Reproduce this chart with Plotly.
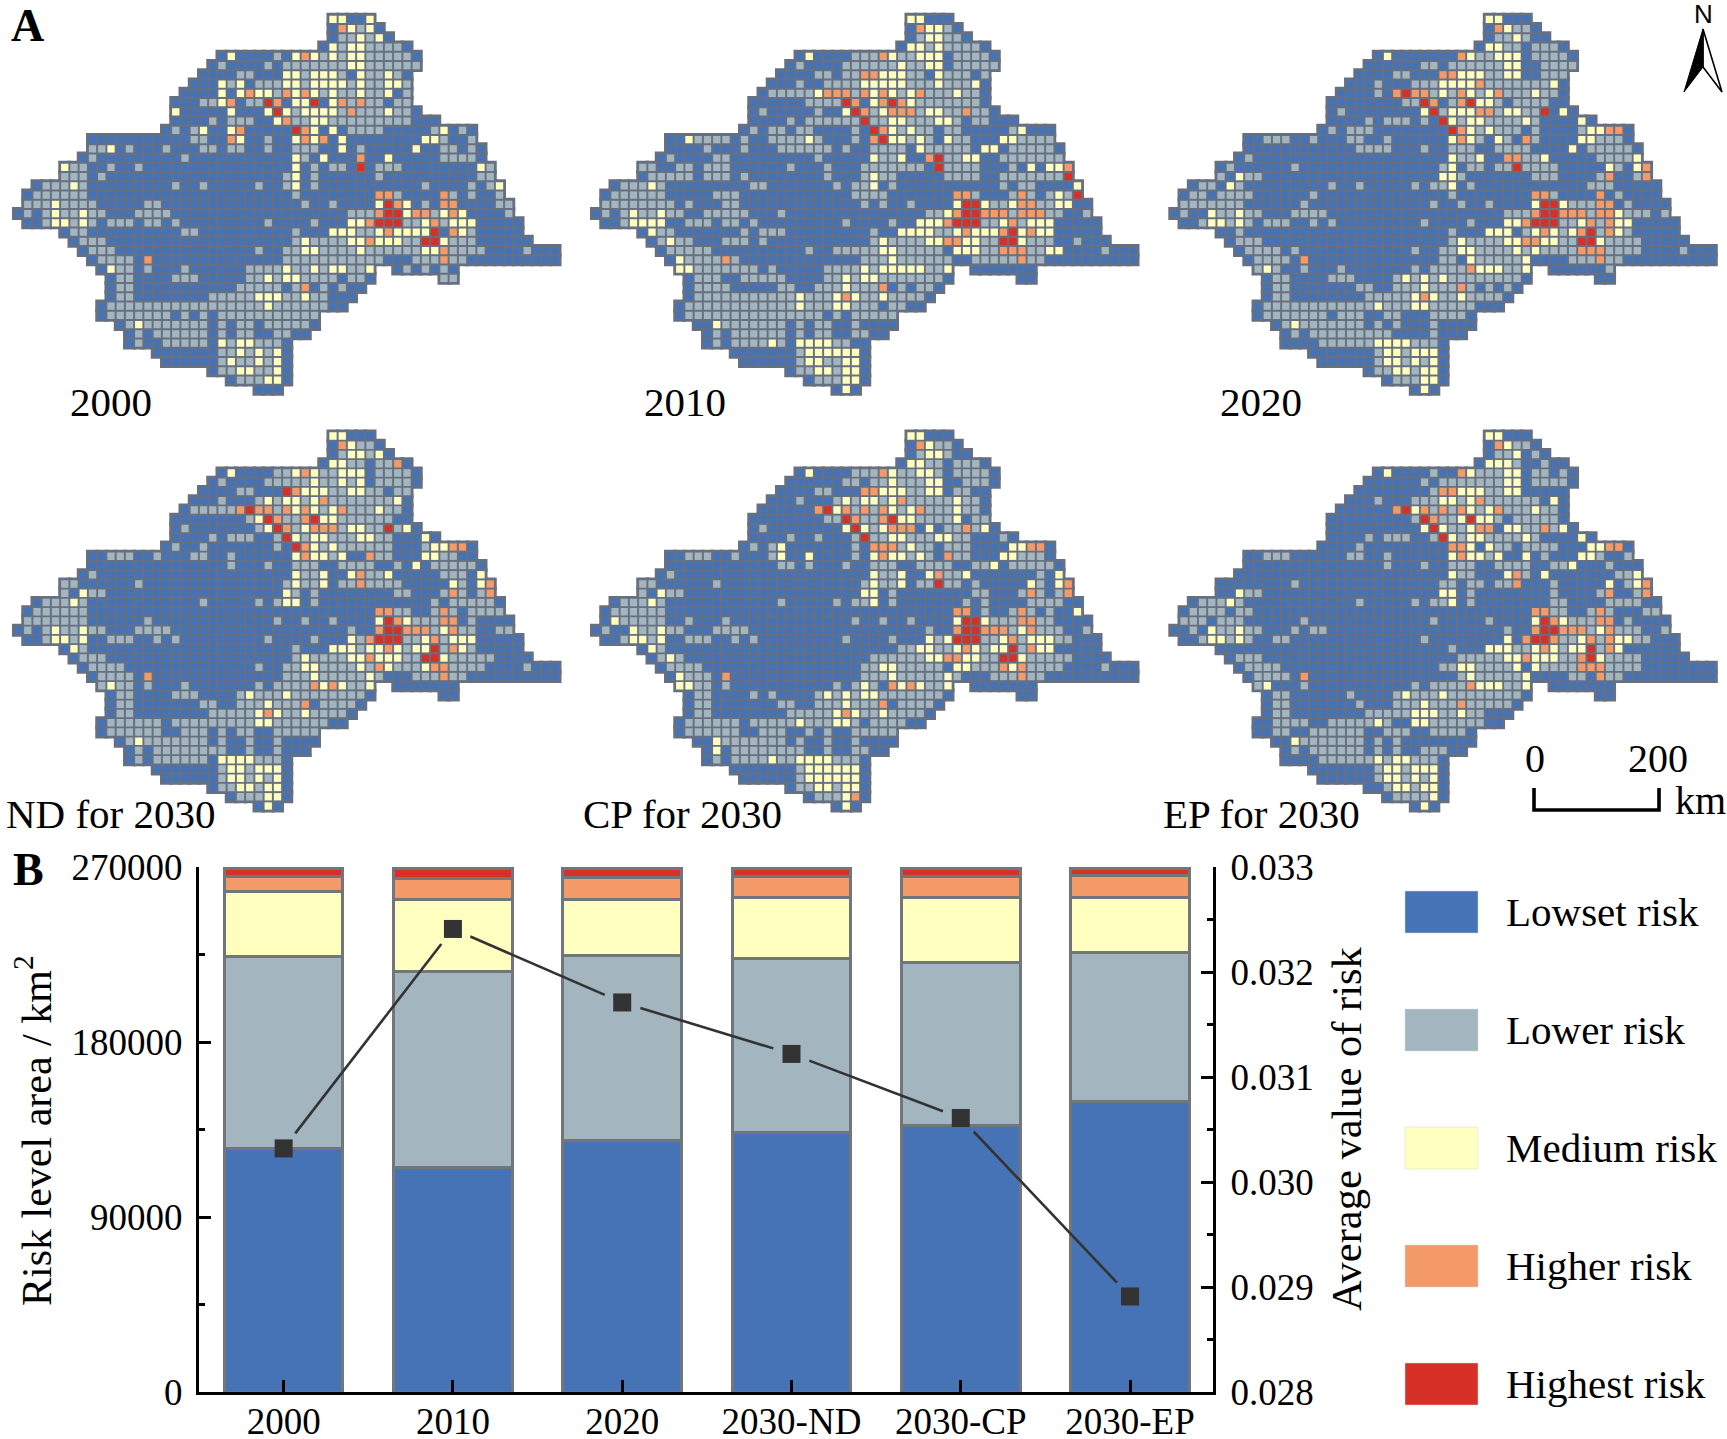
# Risk level maps (A) and stacked risk area chart with average risk line (B)
import plotly.graph_objects as go

W, H = 1727, 1439

# ---- panel B values ----
CATEGORIES = ["2000", "2010", "2020", "2030-ND", "2030-CP", "2030-EP"]
LOWEST = [125400, 115600, 129100, 133600, 137000, 149300]
LOWER = [98500, 100800, 95600, 89400, 83800, 76700]
MEDIUM = [33500, 36900, 28600, 31200, 33400, 28500]
HIGHER = [7700, 10800, 11200, 10700, 10700, 11000]
HIGHEST = [4300, 5300, 4900, 4500, 4500, 3900]
AVG_RISK = [0.03032, 0.03241, 0.03171, 0.03122, 0.03061, 0.02891]
RISK_NAMES = ["Lowset risk", "Lower risk", "Medium risk", "Higher risk", "Highest risk"]
RISK_COLORS = ["#4673B5", "#A3B5BF", "#FFFFBF", "#F49A69", "#D73027"]

# ---- panel A values: grid cells, row -> columns ----
# blue (lowest) is whatever is left inside the outline
ROW_SPANS = [
    [(34, 38)], [(34, 39)], [(34, 40)], [(33, 42)], [(22, 43)], [(21, 43)], [(20, 42)], [(19, 42)],
    [(18, 42)], [(17, 42)], [(17, 43)], [(17, 45)], [(16, 49)], [(8, 49)], [(8, 50)], [(7, 50)],
    [(5, 51)], [(5, 51)], [(2, 52)], [(1, 52)], [(1, 53)], [(0, 53)], [(1, 54)], [(5, 54)],
    [(6, 55)], [(7, 58)], [(8, 58)], [(9, 38), (41, 47)], [(10, 38), (46, 47)], [(10, 37)], [(10, 36)],
    [(9, 35)], [(9, 32)], [(11, 32)], [(12, 31)], [(12, 29)], [(15, 29)], [(16, 29)], [(21, 29)],
    [(23, 29)], [(26, 28)],
]

GRAY_2000 = {
    1: [37], 2: [35, 36, 38], 3: [35, 38, 39, 40, 41], 4: [28, 33, 35, 38, 39, 40, 41, 42],
    5: [22, 27, 29, 30, 31, 32, 33, 34, 35, 38, 39, 40, 41, 42, 43], 6: [24, 25, 31, 35, 38, 39, 41],
    7: [23, 26, 27, 28, 31, 36, 38, 39, 42], 8: [28, 33, 35, 36, 38, 39, 42],
    9: [20, 21, 25, 26, 36, 38, 39, 41, 42], 10: [30, 35, 37, 38, 39, 41, 42],
    11: [21, 23, 24, 25, 30, 31, 34, 35, 36, 37, 38, 39, 40, 41, 42], 12: [17, 19, 36, 37, 38, 39, 45, 48],
    13: [19, 20, 27, 46, 49], 14: [8, 9, 12, 16, 20, 21, 23, 24, 27, 30, 31, 32, 37, 46, 47, 49],
    15: [8, 18, 31, 46, 47, 48, 49], 16: [6, 7, 10, 13, 32, 34, 35, 39, 40, 41, 51],
    17: [5, 6, 7, 9, 29, 30, 32, 39, 50, 51], 18: [3, 4, 5, 7, 17, 20, 26, 29, 32, 44, 49, 51],
    19: [2, 3, 4, 5, 6, 7, 30, 41, 47, 49, 52], 20: [1, 2, 3, 5, 6, 7, 8, 14, 15, 31, 34, 44, 52, 53],
    21: [1, 3, 5, 6, 8, 9, 13, 14, 15, 16, 36, 37, 38, 45, 53],
    22: [3, 6, 8, 10, 11, 12, 14, 15, 17, 27, 32, 42, 43, 46], 23: [6, 7, 18, 19, 30, 37, 38, 45, 49],
    24: [7, 8, 9, 30, 32, 33, 34, 35, 42, 43, 47, 48, 49],
    25: [8, 9, 10, 26, 29, 30, 33, 34, 35, 36, 38, 39, 40, 41, 42, 43, 47, 48, 49, 50, 55],
    26: [9, 10, 11, 12, 29, 30, 31, 32, 33, 34, 35, 36, 37, 38, 39, 43, 44, 45, 47, 48],
    27: [11, 12, 14, 18, 25, 26, 27, 28, 30, 31, 33, 36, 37, 42, 44, 46],
    28: [11, 12, 17, 18, 19, 25, 26, 28, 31, 32, 33, 34, 36, 37, 46, 47],
    29: [11, 12, 24, 25, 26, 27, 28, 30, 33, 35], 30: [11, 12, 21, 22, 23, 24, 25, 29, 30, 32, 33],
    31: [10, 11, 12, 13, 14, 15, 16, 17, 18, 19, 20, 21, 22, 23, 24, 25, 26, 28, 29, 30, 31, 32, 33],
    32: [10, 11, 12, 13, 14, 15, 16, 18, 20, 22, 23, 24, 25, 26, 27, 28, 29, 30, 31, 32],
    33: [12, 14, 15, 16, 17, 18, 19, 20, 22, 24, 25, 27, 28, 29, 30, 31],
    34: [13, 15, 16, 17, 18, 19, 20, 22, 24, 25, 28, 29], 35: [13, 16, 17, 18, 19, 20, 23, 26, 27, 28],
    36: [22, 23, 25, 27], 37: [22, 24, 25, 27], 38: [22, 23, 26, 27], 39: [24, 25, 26],
}
YELLOW_2000 = {
    0: [34, 35, 38], 1: [36, 38], 2: [37, 39], 3: [34, 36, 37], 4: [23, 30, 32, 34, 36, 37], 5: [36, 37],
    6: [29, 30, 32, 33, 34, 37, 40], 7: [22, 24, 29, 30, 32, 33, 34, 35, 37, 40, 41],
    8: [22, 24, 26, 27, 30, 32, 34, 37, 40], 9: [22, 30, 31, 34], 10: [17, 23, 27, 29, 31, 32, 33, 34, 40],
    11: [28, 32, 33], 12: [20, 23, 32, 34, 46], 13: [24, 30, 32, 35, 44, 45], 14: [10, 35, 43],
    15: [30, 33, 40], 16: [5, 30, 50], 17: [30], 18: [6, 30, 52], 20: [4, 39, 42], 21: [4, 7, 42, 46, 48],
    22: [4, 5, 7, 36, 37, 44, 47, 48, 49], 23: [34, 35, 36, 39, 41, 42, 43, 44, 48],
    24: [31, 36, 37, 39, 40, 41, 46], 25: [31, 32, 37, 44, 45], 27: [10, 29, 32, 34, 35, 38],
    28: [27, 29, 30], 30: [26, 27, 28, 31], 31: [27], 33: [13], 35: [22, 24, 25], 36: [24, 26, 28],
    37: [23, 26, 28], 38: [24, 25, 28], 39: [27, 28],
}
ORANGE_2000 = {
    1: [35], 4: [31], 8: [25, 29, 31], 9: [23, 28, 32, 35, 37], 10: [36], 11: [29], 12: [24, 31],
    13: [23, 31, 33], 15: [37], 19: [39, 40, 46], 20: [41, 46, 47], 21: [39, 43, 44, 47], 22: [38, 45],
    23: [40, 47], 24: [38], 25: [46], 26: [14, 46], 29: [31],
}
RED_2000 = {9: [27, 32], 10: [28], 12: [30], 16: [37], 20: [40], 21: [40, 41], 22: [39, 40, 41], 23: [45], 24: [44, 45]}

GRAY_2010 = {
    1: [38], 2: [35, 38, 39], 3: [36, 38, 39, 40, 41], 4: [28, 29, 30, 33, 34, 39, 40, 41, 42],
    5: [22, 27, 28, 29, 30, 31, 32, 34, 35, 39, 40, 41, 42, 43], 6: [24, 25, 27, 28, 34, 35, 38, 39, 40, 42],
    7: [22, 25, 26, 27, 28, 34, 35, 36, 38, 39, 40], 8: [19, 20, 21, 22, 23, 28, 33, 36, 37, 38, 40, 41],
    9: [23, 24, 25, 26, 35, 36, 37, 38, 39, 40, 41], 10: [18, 24, 30, 35, 38, 39, 41, 42],
    11: [21, 23, 24, 25, 26, 27, 28, 30, 31, 34, 35, 36, 39, 41, 42],
    12: [17, 19, 20, 22, 23, 28, 33, 35, 36, 38, 39, 45],
    13: [11, 12, 13, 14, 16, 19, 20, 21, 22, 24, 28, 34, 36, 39, 40, 46, 47, 48, 49],
    14: [12, 16, 20, 21, 22, 23, 24, 25, 27, 30, 31, 32, 33, 36, 37, 38, 39, 40, 45, 46, 47, 48, 49],
    15: [8, 13, 14, 24, 31, 32, 38, 39, 44, 45, 46, 47, 48, 49, 50],
    16: [5, 6, 9, 10, 12, 13, 14, 21, 25, 29, 30, 31, 32, 33, 34, 35, 38, 39, 40, 41, 45],
    17: [6, 7, 8, 9, 10, 12, 13, 14, 16, 25, 29, 31, 32, 38, 39, 40, 41, 44, 45, 46, 47, 48, 49, 50],
    18: [3, 4, 5, 7, 17, 18, 26, 28, 29, 32, 44, 46, 47],
    19: [2, 3, 4, 5, 6, 7, 13, 14, 15, 28, 29, 30, 31, 41, 45, 47, 49, 51],
    20: [1, 2, 3, 4, 5, 6, 7, 8, 10, 14, 15, 29, 31, 34, 43, 44, 48, 49],
    21: [1, 3, 5, 6, 8, 9, 12, 13, 14, 15, 16, 20, 36, 37, 45, 49, 50, 53],
    22: [3, 10, 11, 12, 14, 15, 17, 27, 32, 42, 43, 46], 23: [7, 8, 16, 18, 19, 20, 30, 37, 38],
    24: [7, 9, 10, 14, 15, 16, 18, 30, 32, 33, 34, 35, 42, 43, 47, 48, 49, 52],
    25: [8, 9, 10, 11, 12, 23, 26, 27, 28, 29, 30, 33, 34, 35, 36, 37, 42, 43, 47, 48, 55],
    26: [10, 11, 12, 13, 15, 29, 30, 31, 33, 34, 35, 36, 37, 38, 41, 42, 43, 44, 45, 47, 48],
    27: [11, 12, 13, 14, 15, 16, 17, 19, 25, 26, 27, 28, 30, 36, 37],
    28: [11, 12, 13, 16, 17, 18, 19, 20, 25, 26, 28, 31, 32, 33, 34, 35, 36, 37],
    29: [11, 12, 13, 14, 20, 21, 24, 25, 26, 28, 29, 30, 33, 35, 36],
    30: [11, 12, 13, 14, 15, 16, 17, 18, 19, 20, 21, 23, 24, 25, 29, 30, 32, 33, 34, 35],
    31: [10, 11, 12, 13, 14, 15, 16, 17, 18, 19, 20, 21, 23, 24, 25, 28, 29, 30, 32, 33],
    32: [10, 11, 12, 13, 14, 15, 16, 17, 18, 19, 20, 21, 22, 23, 24, 26, 28, 29, 30, 31, 32],
    33: [14, 15, 16, 17, 18, 19, 20, 22, 24, 25, 28], 34: [13, 15, 16, 17, 18, 19, 20, 22, 24, 25, 28, 29],
    35: [13, 15, 16, 17, 18, 20, 26, 27], 36: [22], 37: [22, 25, 26], 38: [22, 23, 26], 39: [24, 25, 26],
}
YELLOW_2010 = {
    0: [34, 35], 1: [36, 37], 2: [36, 37], 3: [34, 35, 37], 4: [23, 32, 35, 36, 37], 5: [33, 36, 37],
    6: [31, 32, 33, 37], 7: [29, 30, 31, 32, 33, 37, 41], 8: [24, 30, 32, 34, 39], 9: [30, 34],
    10: [27, 31, 36, 37], 11: [32, 33, 37, 38], 12: [32, 34, 46], 13: [10, 23, 32, 33, 35, 38, 44, 45],
    14: [35, 42, 43], 15: [30, 33, 40, 41], 16: [47, 49, 50], 17: [30], 18: [6, 30, 52], 19: [50],
    20: [39, 42, 45, 50, 51], 21: [4, 7, 38], 22: [4, 5, 6, 7, 35, 36, 37, 44, 47, 48, 49],
    23: [6, 33, 34, 35, 36, 39, 41, 42, 43, 46, 48, 49], 24: [8, 31, 36, 37, 40, 41, 46],
    25: [31, 32, 39, 40, 41, 49, 50], 26: [9, 32], 27: [9, 10, 29, 31, 32, 33, 34, 35, 38],
    28: [27, 29, 30], 29: [27], 30: [22, 26, 28, 31], 31: [22, 26, 27], 33: [13], 35: [19, 22, 23, 24, 25],
    36: [23, 24, 25, 26, 27, 28], 37: [23, 24, 27, 28], 38: [24, 25, 27, 28], 39: [27, 28], 40: [27],
}
ORANGE_2010 = {
    1: [35], 4: [31], 6: [29, 30], 8: [25, 26, 27, 29, 31, 35], 9: [28, 31, 33], 10: [29, 32, 33, 34, 40],
    12: [31], 13: [30], 15: [36], 16: [51], 19: [39, 40, 46], 20: [46, 47], 21: [39, 42, 43, 44, 46, 47, 48],
    22: [38, 45], 23: [40, 44, 47], 24: [38, 39], 25: [44, 45, 46], 26: [14, 46], 29: [31], 30: [27],
}
RED_2010 = {
    9: [27, 32], 10: [28], 11: [29], 12: [30], 13: [31], 15: [37], 16: [37], 17: [51], 19: [52],
    20: [40, 41], 21: [40, 41], 22: [39, 40, 41], 23: [45], 24: [44, 45],
}

GRAY_2020 = {
    1: [37, 38], 2: [35, 36, 38], 3: [36, 37, 39, 40, 41], 4: [33, 34, 39, 40, 41, 42],
    5: [27, 28, 30, 31, 32, 33, 34, 35, 40, 41, 42, 43], 6: [24, 25, 34, 35, 40, 41, 42],
    7: [22, 26, 27, 28, 34, 35, 36, 37, 38, 39, 40], 8: [22, 28, 30, 33, 36, 37, 38, 40, 41],
    9: [25, 26, 30, 35, 37, 38, 39, 40], 10: [18, 29, 35, 38, 39],
    11: [21, 23, 24, 25, 27, 31, 34, 35, 36, 37, 39], 12: [17, 19, 20, 21, 33, 35, 36, 37, 39, 44],
    13: [10, 11, 12, 15, 19, 20, 23, 33, 36, 39, 46, 47, 48],
    14: [20, 21, 22, 23, 27, 30, 31, 32, 35, 36, 37, 38, 45, 46, 47, 48, 49],
    15: [8, 31, 32, 38, 39, 46, 47, 48, 49], 16: [6, 13, 29, 32, 33, 35, 36, 38, 39, 40, 41, 48],
    17: [5, 8, 9, 31, 39, 40, 41, 46, 50], 18: [3, 4, 7, 17, 20, 26, 28, 29, 32, 45, 46, 47],
    19: [2, 3, 5, 6, 7, 8, 15, 30, 41, 48], 20: [1, 2, 3, 4, 5, 6, 7, 14, 28, 31, 34, 43, 44, 45, 49],
    21: [1, 5, 6, 8, 9, 13, 14, 15, 16, 36, 37, 38, 45, 49, 50, 51, 53],
    22: [3, 6, 8, 10, 11, 12, 15, 17, 27, 32, 42, 43, 46], 23: [7, 30, 38, 42, 46, 49],
    24: [7, 8, 9, 30, 32, 33, 34, 35, 42, 43, 47, 48, 49, 50],
    25: [8, 9, 10, 11, 13, 26, 29, 30, 33, 34, 35, 36, 38, 40, 41, 42, 43, 47, 48, 49, 50, 55],
    26: [9, 10, 11, 12, 29, 30, 33, 34, 35, 36, 37, 43, 44, 45, 47, 48],
    27: [9, 11, 14, 18, 26, 28, 29, 30, 31, 36, 37, 47],
    28: [11, 12, 17, 18, 19, 24, 26, 28, 30, 31, 32, 33, 34, 35, 36, 37],
    29: [11, 12, 20, 21, 24, 25, 26, 28, 29, 30, 32, 34, 36],
    30: [11, 12, 21, 22, 23, 24, 25, 29, 30, 32, 33, 34, 35],
    31: [10, 11, 12, 13, 14, 15, 16, 17, 18, 19, 20, 21, 23, 24, 25, 28, 29, 30, 31, 32],
    32: [10, 11, 12, 13, 14, 15, 16, 18, 19, 20, 23, 24, 28, 29, 30, 31],
    33: [12, 14, 15, 16, 17, 18, 19, 20, 22, 24, 28], 34: [13, 15, 16, 17, 18, 19, 20, 21, 22, 23, 28],
    35: [16, 17, 18, 19, 20, 21, 26, 27, 28], 36: [22, 25], 37: [22, 25, 27], 38: [22, 23, 26],
    39: [24, 25, 26],
}
YELLOW_2020 = {
    0: [34, 35], 1: [36], 2: [37], 3: [34, 35], 4: [23, 32, 35, 36, 37], 5: [36, 37], 6: [31, 32, 33, 36, 37],
    7: [29, 30, 31, 32, 41], 8: [29, 32, 34, 39], 9: [33, 34], 10: [27, 30, 31, 32, 36, 37, 42],
    11: [30, 32, 33, 38, 44], 12: [32, 34, 45, 46], 13: [30, 32, 35, 44, 45], 14: [43], 15: [30, 33, 40, 50],
    16: [30, 47, 50], 17: [7, 29, 30], 18: [6, 30], 20: [39, 42], 21: [4, 7, 48],
    22: [4, 5, 7, 36, 37, 44, 48, 49], 23: [34, 35, 36, 39, 41, 43, 48], 24: [31, 36, 37, 40, 41, 46],
    25: [31, 32, 37, 39], 26: [32, 38], 27: [10, 33, 34, 35, 38], 28: [25, 27, 29], 29: [27],
    30: [26, 28, 31], 31: [22, 26, 27], 33: [13], 35: [22, 23, 24, 25], 36: [23, 24, 26, 27, 28],
    37: [23, 24, 26, 28], 38: [24, 25, 27, 28], 39: [27, 28], 40: [27],
}
ORANGE_2020 = {
    1: [35], 4: [31], 6: [29, 30], 7: [33], 8: [24, 26, 27, 31, 35], 9: [28, 31], 10: [33, 34],
    12: [31, 47, 48], 13: [31, 38], 15: [36, 37], 16: [51], 17: [47, 51], 19: [39, 40, 46], 20: [46, 47],
    21: [39, 42, 43, 44, 46, 47], 22: [38, 45, 47], 23: [40, 44, 47], 24: [38, 39], 25: [44, 45, 46],
    26: [14, 46], 27: [32], 29: [31], 30: [27],
}
RED_2020 = {
    8: [25], 9: [27, 32], 10: [28, 40], 11: [29], 12: [30], 16: [37], 20: [40, 41], 21: [40, 41],
    22: [39, 40, 41], 23: [45], 24: [44, 45],
}

GRAY_ND = {
    1: [37, 38], 2: [35, 38], 3: [36, 37, 39, 40], 4: [28, 29, 33, 34, 39, 40, 41, 42],
    5: [22, 27, 28, 29, 30, 31, 33, 34, 36, 39, 40, 41, 42], 6: [24, 25, 34, 35, 38, 39, 41, 42],
    7: [22, 26, 28, 31, 34, 35, 36, 37, 38, 39, 40], 8: [19, 20, 21, 22, 23, 28, 33, 36, 37, 38, 40, 41],
    9: [25, 29, 30, 35, 36, 37, 38, 39, 40], 10: [18, 26, 30, 35, 38, 39, 41],
    11: [21, 23, 24, 25, 28, 31, 34, 35, 36, 39, 40], 12: [17, 20, 28, 33, 35, 36, 37, 38, 39, 40, 44],
    13: [10, 11, 12, 15, 19, 20, 23, 34, 39, 40, 46, 47], 14: [23, 27, 30, 31, 32, 35, 36, 37, 38, 41, 45, 46, 47, 48, 49],
    15: [8, 31, 32, 38, 39, 46, 47, 48], 16: [5, 6, 13, 29, 31, 32, 35, 36, 38, 39, 40, 41, 48],
    17: [5, 8, 9, 30, 32, 41, 42, 46, 48, 50], 18: [3, 4, 5, 7, 20, 26, 28, 32, 45, 47, 48, 49, 50, 51],
    19: [2, 3, 4, 5, 6, 7, 41, 42, 45, 47, 49, 50, 51, 52], 20: [1, 2, 3, 4, 5, 6, 7, 14, 28, 31, 34, 43, 44, 45, 49],
    21: [1, 3, 5, 6, 8, 9, 13, 14, 15, 16, 36, 45, 48, 49, 52, 53],
    22: [3, 6, 10, 11, 12, 15, 17, 27, 32, 37, 42, 43, 46], 23: [7, 30, 37, 42, 46, 49],
    24: [7, 8, 9, 30, 32, 33, 34, 35, 42, 43, 47, 48, 49, 50, 51],
    25: [8, 9, 10, 11, 26, 29, 30, 33, 34, 35, 36, 38, 41, 42, 43, 47, 48, 49, 50, 55],
    26: [9, 10, 11, 12, 29, 30, 31, 33, 34, 35, 36, 37, 39, 43, 44, 45, 47, 48],
    27: [9, 11, 12, 14, 18, 26, 28, 29, 30, 31, 36, 37],
    28: [11, 12, 17, 18, 19, 24, 26, 27, 28, 30, 31, 32, 33, 34, 35, 36, 37],
    29: [11, 12, 20, 21, 24, 25, 26, 28, 29, 30, 33, 34, 35, 36],
    30: [11, 12, 21, 22, 23, 24, 25, 29, 30, 32, 33, 34, 35],
    31: [10, 11, 12, 13, 14, 15, 17, 18, 19, 20, 21, 22, 23, 24, 25, 28, 29, 30, 31, 32, 33],
    32: [10, 11, 12, 13, 14, 15, 18, 19, 20, 22, 24, 25, 28, 29, 30, 31, 32],
    33: [12, 14, 15, 16, 17, 18, 19, 20, 22, 25, 28], 34: [13, 15, 16, 17, 18, 19, 20, 21, 22, 25, 28],
    35: [13, 15, 16, 17, 18, 19, 20, 26, 27, 28], 36: [22, 25], 37: [22, 25, 27], 38: [22, 23, 26],
    39: [24, 25, 26],
}
YELLOW_ND = {
    0: [34, 35], 1: [36], 2: [36, 37, 39], 3: [34, 35], 4: [23, 30, 32, 35, 36, 37], 5: [32, 35, 37],
    6: [31, 32, 33, 36, 37], 7: [27, 29, 30, 32, 41], 8: [30, 32, 34, 39], 9: [26, 33, 34],
    10: [27, 31, 36, 37, 42], 11: [30, 32, 33, 37, 38, 44], 12: [32, 34, 45, 46],
    13: [30, 32, 33, 35, 44, 45], 14: [43], 15: [30, 33, 36, 40, 50], 16: [30, 33, 47, 50], 17: [7, 29],
    18: [6, 29, 30], 20: [39, 42], 21: [4, 7, 46], 22: [4, 5, 7, 36, 44, 47, 48, 49],
    23: [6, 34, 35, 36, 38, 39, 41, 43, 44, 48], 24: [31, 36, 37, 39, 40, 41, 46],
    25: [31, 32, 37, 40, 44], 26: [32, 38], 27: [10, 33, 35, 38], 28: [25, 29], 29: [27],
    30: [26, 28, 31], 31: [26, 27], 33: [13], 35: [22, 23, 24, 25], 36: [23, 24, 26, 27, 28],
    37: [23, 24, 26, 28], 38: [24, 25, 27, 28], 39: [27, 28], 40: [27],
}
ORANGE_ND = {
    1: [35], 3: [41], 4: [31], 6: [30], 7: [33], 8: [24, 26, 27, 29, 31, 35], 9: [28, 31],
    10: [29, 32, 33, 34], 12: [31, 47, 48], 13: [31, 38], 15: [37], 16: [37, 51], 17: [47, 51],
    19: [39, 40, 46], 20: [41, 46, 47], 21: [39, 42, 43, 44, 47], 22: [38, 45], 23: [40, 47], 24: [38],
    25: [39, 45, 46], 26: [14, 46], 27: [32, 34], 29: [31], 30: [27],
}
RED_ND = {
    6: [29], 8: [25], 9: [27, 32], 10: [28, 40], 11: [29], 12: [30], 20: [40], 21: [40, 41],
    22: [39, 40, 41], 23: [45], 24: [44, 45],
}

GRAY_CP = {
    1: [37, 38], 2: [35, 38], 3: [36, 37, 39, 40, 41], 4: [28, 29, 30, 33, 34, 37, 39, 40, 41, 42],
    5: [27, 28, 30, 31, 33, 34, 35, 40, 41, 42], 6: [24, 25, 34, 35, 39, 40],
    7: [22, 26, 28, 31, 34, 35, 36, 37, 38, 40, 41], 8: [28, 30, 33, 36, 37, 38, 40, 41],
    9: [25, 26, 29, 30, 35, 36, 37, 38, 41, 42], 10: [18, 30, 38, 39, 41],
    11: [21, 24, 28, 30, 31, 34, 35, 36, 39, 40, 44], 12: [17, 19, 28, 33, 35, 36, 38, 39, 40],
    13: [10, 11, 12, 15, 19, 28, 34, 36, 39, 40, 46, 47, 48], 14: [20, 21, 23, 27, 30, 31, 32, 35, 36, 37, 38, 41, 42, 45, 46, 47, 48, 49],
    15: [8, 31, 32, 38, 39, 48], 16: [5, 6, 13, 29, 31, 32, 35, 36, 38, 39, 41, 48],
    17: [5, 8, 9, 32, 41, 42, 46, 48, 50], 18: [3, 4, 5, 7, 20, 26, 28, 29, 32, 40, 42, 47, 48, 49, 50],
    19: [2, 3, 4, 5, 6, 7, 42, 45, 47, 49], 20: [3, 4, 5, 6, 7, 10, 14, 28, 31, 34, 43, 44, 45, 48, 49],
    21: [1, 5, 6, 8, 9, 13, 14, 15, 16, 36, 45, 48, 49, 50, 53],
    22: [3, 6, 10, 11, 12, 15, 17, 27, 32, 37, 42, 43, 46, 50, 51], 23: [7, 33, 34, 37, 38, 42, 46],
    24: [7, 9, 30, 31, 32, 33, 34, 35, 42, 43, 47, 48, 49, 50, 51],
    25: [8, 9, 10, 11, 29, 30, 33, 34, 35, 36, 37, 41, 42, 43, 47, 48, 49, 50, 55],
    26: [10, 11, 12, 29, 30, 31, 33, 34, 35, 36, 37, 39, 43, 44, 45, 47, 48],
    27: [11, 12, 14, 26, 28, 30, 36, 37], 28: [11, 12, 17, 19, 24, 26, 28, 31, 32, 33, 34, 35, 36, 37],
    29: [11, 12, 20, 21, 24, 25, 26, 28, 29, 30, 33, 34, 35, 36],
    30: [11, 12, 21, 22, 23, 24, 25, 29, 30, 32, 33, 34, 35],
    31: [10, 11, 12, 13, 14, 15, 17, 18, 19, 20, 21, 23, 24, 25, 28, 30, 31, 32, 33],
    32: [10, 11, 12, 13, 14, 15, 18, 19, 20, 23, 25, 28, 29, 30, 31, 32],
    33: [14, 15, 16, 17, 18, 19, 20, 22, 25, 28], 34: [15, 16, 17, 18, 19, 20, 21, 22, 25, 28, 29],
    35: [13, 15, 16, 17, 18, 20, 21, 26, 27, 28], 36: [22], 37: [22], 38: [22, 23, 26], 39: [24, 25, 26],
}
YELLOW_CP = {
    0: [34, 35], 1: [36], 2: [36, 37], 3: [34, 35], 4: [23, 32, 35, 36], 5: [32, 36, 37], 6: [31, 32, 33, 36, 37],
    7: [27, 29, 30, 32, 39], 8: [26, 32, 34, 39], 9: [33, 34, 39], 10: [27, 29, 31, 36, 42],
    11: [32, 33, 37, 38], 12: [20, 34, 45, 46], 13: [20, 23, 30, 32, 33, 35, 44, 45], 14: [43],
    15: [30, 33, 36, 40, 50], 16: [30, 33, 47, 50], 17: [7, 29, 30], 18: [6, 30], 19: [52], 20: [2, 39, 42],
    21: [4, 7, 46], 22: [4, 5, 7, 36, 38, 44, 47, 48, 49], 23: [6, 35, 36, 39, 41, 43, 44, 48, 49],
    24: [8, 36, 37, 40, 41, 46], 25: [31, 32, 39, 40, 45], 26: [9, 32, 38], 27: [9, 10, 29, 33, 35, 38],
    28: [25, 27, 29, 30], 29: [27], 30: [26, 28, 31], 31: [22, 26, 27], 33: [13], 34: [13],
    35: [19, 22, 23, 24, 25], 36: [23, 24, 25, 26, 27, 28], 37: [23, 24, 25, 26, 27, 28],
    38: [24, 25, 27, 28], 39: [27], 40: [27],
}
ORANGE_CP = {
    1: [35], 4: [31], 6: [29, 30], 7: [33], 8: [24, 27, 29, 31, 35], 9: [28, 31], 10: [32, 33, 34, 40],
    12: [30, 31, 32, 47, 48], 13: [31, 38], 15: [37], 16: [51], 17: [47, 51], 19: [39, 40, 46],
    20: [46, 47], 21: [39, 42, 43, 44, 47], 22: [45], 23: [40, 47], 24: [38, 39], 25: [44, 46],
    26: [14, 46], 27: [32, 34], 29: [31], 30: [27], 39: [28],
}
RED_CP = {
    8: [25], 9: [27, 32], 10: [28], 11: [29], 16: [37], 20: [40, 41], 21: [40, 41], 22: [39, 40, 41],
    23: [45], 24: [44, 45],
}

GRAY_EP = {
    1: [37, 38], 2: [35, 36, 39], 3: [37, 40], 4: [28, 33, 34, 35, 39, 40, 42],
    5: [27, 29, 30, 31, 32, 33, 34, 35, 39, 40, 41, 42], 6: [28, 34, 35],
    7: [22, 26, 27, 28, 31, 34, 35, 36, 37, 38, 39], 8: [28, 30, 33, 36, 37, 38, 40, 41],
    9: [26, 29, 30, 35, 37, 38, 39, 40, 41], 10: [30, 31, 38, 39, 41],
    11: [21, 23, 24, 25, 28, 31, 34, 35, 36, 37, 39], 12: [20, 35, 36, 38, 39, 40, 41],
    13: [10, 11, 12, 19, 20, 23, 34, 40, 46, 49], 14: [23, 27, 30, 31, 32, 35, 36, 37, 38, 41, 42, 47],
    15: [31, 32, 38, 48, 49], 16: [13, 29, 30, 32, 33, 35, 36, 41, 49], 17: [8, 9, 32, 41, 46, 50],
    18: [3, 4, 5, 7, 20, 26, 28, 29, 32, 41, 42, 47, 48, 49, 50], 19: [2, 3, 4, 5, 7, 8, 41, 42, 45, 47, 51, 52],
    20: [1, 2, 3, 5, 6, 7, 14, 28, 34, 43, 44, 45, 49], 21: [2, 5, 6, 8, 9, 13, 15, 16, 36, 45, 48, 49, 50, 53],
    22: [3, 6, 8, 11, 12, 27, 42, 43, 46, 50, 51], 23: [30, 37, 38, 42, 46],
    24: [7, 8, 9, 31, 32, 33, 34, 35, 42, 43, 47, 48, 49, 50],
    25: [8, 9, 10, 11, 29, 30, 33, 34, 35, 36, 40, 41, 42, 43, 47, 48, 49, 50],
    26: [9, 10, 11, 12, 31, 33, 34, 35, 36, 37, 43, 44, 47, 48], 27: [9, 14, 26, 28, 29, 30, 31, 36, 37],
    28: [11, 12, 19, 24, 26, 27, 28, 30, 31, 32, 33, 34, 35, 36, 37],
    29: [11, 12, 20, 24, 25, 26, 28, 29, 30, 32, 33, 34, 35, 36], 30: [11, 12, 21, 22, 23, 24, 25, 29, 30, 32, 33],
    31: [11, 12, 13, 14, 17, 18, 19, 20, 21, 23, 28, 29, 30, 31, 32, 33],
    32: [11, 12, 15, 16, 17, 18, 19, 20, 23, 24, 25, 28, 29, 30, 31], 33: [14, 15, 16, 17, 18, 19, 20, 22, 24],
    34: [13, 15, 16, 17, 18, 19, 20, 22, 24, 27, 28, 29], 35: [16, 17, 18, 19, 20, 21, 23, 26, 27, 28],
    36: [22, 25], 37: [22, 25, 27], 38: [23, 26], 39: [24, 25, 26, 27],
}
YELLOW_EP = {
    0: [34, 35], 1: [36], 2: [37], 3: [34, 35, 36], 4: [23, 32, 36, 37], 5: [36, 37], 6: [31, 32, 33, 36, 37],
    7: [29, 30, 32, 41], 8: [26, 32, 34, 39], 9: [31, 33, 34], 10: [27, 29, 32, 36, 37, 42],
    11: [30, 32, 33, 38, 44], 12: [32, 34, 45, 46], 13: [30, 32, 33, 35, 38, 44, 45], 14: [43],
    15: [30, 36, 40, 50], 16: [47, 50], 17: [7, 29, 30], 18: [6, 30], 20: [39, 42], 21: [4, 7, 46],
    22: [4, 5, 7, 36, 44, 48, 49], 23: [34, 35, 36, 39, 41, 43, 44, 48], 24: [36, 37, 39, 40, 41, 46],
    25: [31, 32, 37, 39], 26: [32, 38], 27: [10, 33, 34, 35, 38], 28: [25, 29], 29: [27],
    30: [26, 27, 28, 31], 31: [22, 26, 27], 33: [13], 35: [22, 24, 25], 36: [23, 24, 26, 27, 28],
    37: [23, 24, 26, 28], 38: [24, 25, 27, 28], 39: [28], 40: [27],
}
ORANGE_EP = {
    1: [35], 4: [31], 6: [29, 30], 7: [33], 8: [24, 27, 29, 31, 35], 9: [28], 10: [33, 34, 40],
    12: [30, 31, 47, 48], 13: [31], 15: [37], 16: [37, 51], 17: [47, 51], 19: [39, 40, 46],
    20: [41, 46, 47], 21: [39, 42, 43, 44, 47], 22: [38, 41, 45, 47], 23: [40, 47], 24: [38, 44],
    25: [44, 45, 46], 26: [14, 46], 27: [32], 29: [31],
}
RED_EP = {8: [25], 9: [27, 32], 10: [28], 11: [29], 20: [40], 21: [40, 41], 22: [39, 40], 23: [45], 24: [45]}

PANELS = [
    ("2000", GRAY_2000, YELLOW_2000, ORANGE_2000, RED_2000),
    ("2010", GRAY_2010, YELLOW_2010, ORANGE_2010, RED_2010),
    ("2020", GRAY_2020, YELLOW_2020, ORANGE_2020, RED_2020),
    ("ND for 2030", GRAY_ND, YELLOW_ND, ORANGE_ND, RED_ND),
    ("CP for 2030", GRAY_CP, YELLOW_CP, ORANGE_CP, RED_CP),
    ("EP for 2030", GRAY_EP, YELLOW_EP, ORANGE_EP, RED_EP),
]

PITCH = 9.25
PANEL_ORIGIN = [(18.5, 19.3), (596.5, 19.3), (1174.8, 19.3), (18.5, 436), (596.5, 436), (1174.8, 436)]
LABEL_POS = [(68, 402), (642, 402), (1218, 402), (4, 814), (581, 814), (1161, 814)]
SERIF = "Liberation Serif"
EDGE = "#667080"


def fx(px):
    return px / W


def fy(py):
    return 1 - py / H


fig = go.Figure()
layout = {}

for i, (label, gray, yellow, orange, red) in enumerate(PANELS):
    n = i + 1
    ox, oy = PANEL_ORIGIN[i]
    classes = {}
    for r, spans in enumerate(ROW_SPANS):
        for start, end in spans:
            for c in range(start, end + 1):
                classes[(r, c)] = 0
    for level, cells in ((1, gray), (2, yellow), (3, orange), (4, red)):
        for r, cols in cells.items():
            for c in cols:
                classes[(r, c)] = level

    xs = [k[1] for k in classes]
    ys = [k[0] for k in classes]
    colors = [RISK_COLORS[v] for v in classes.values()]
    xname = "x" if n == 1 else f"x{n}"
    yname = "y" if n == 1 else f"y{n}"
    # grey underlay gives the grid lines and the outline
    fig.add_trace(go.Scatter(x=xs, y=ys, mode="markers", xaxis=xname, yaxis=yname, hoverinfo="skip",
                             showlegend=False,
                             marker=dict(symbol="square", size=13, color=EDGE, line=dict(width=0))))
    fig.add_trace(go.Scatter(x=xs, y=ys, mode="markers", xaxis=xname, yaxis=yname, hoverinfo="skip",
                             showlegend=False,
                             marker=dict(symbol="square", size=7.3, color=colors, line=dict(width=0))))
    suffix = "" if n == 1 else str(n)
    layout["xaxis" + suffix] = dict(domain=[fx(ox - PITCH), fx(ox + 59.5 * PITCH)], range=[-1, 59.5],
                                    visible=False, fixedrange=True, anchor="y" + suffix, automargin=False)
    layout["yaxis" + suffix] = dict(domain=[fy(oy + 41.5 * PITCH), fy(oy - PITCH)], range=[41.5, -1],
                                    visible=False, fixedrange=True, anchor="x" + suffix, automargin=False)

# panel B
positions = list(range(len(CATEGORIES)))
for values, name, color in zip([LOWEST, LOWER, MEDIUM, HIGHER, HIGHEST], RISK_NAMES, RISK_COLORS):
    fig.add_trace(go.Bar(x=positions, y=values, name=name, width=0.7, xaxis="x7", yaxis="y7",
                         showlegend=False,
                         marker=dict(color=color, line=dict(color="#70767A", width=3))))

PLOT_L, PLOT_R, PLOT_T, PLOT_B = 199, 1213, 867, 1392
X_RANGE = [-0.5, 5.49]
Y2_RANGE = [0.028, 0.033]
px_x = (PLOT_R - PLOT_L) / (X_RANGE[1] - X_RANGE[0])
px_y = (PLOT_B - PLOT_T) / (Y2_RANGE[1] - Y2_RANGE[0])
GAP = 19

# line stops short of each symbol, as the original does
seg_x, seg_y = [], []
for a in range(len(AVG_RISK) - 1):
    dx = (positions[a + 1] - positions[a]) * px_x
    dy = (AVG_RISK[a + 1] - AVG_RISK[a]) * px_y
    t = GAP / (dx ** 2 + dy ** 2) ** 0.5
    seg_x += [positions[a] + t * (positions[a + 1] - positions[a]),
              positions[a + 1] - t * (positions[a + 1] - positions[a]), None]
    seg_y += [AVG_RISK[a] + t * (AVG_RISK[a + 1] - AVG_RISK[a]),
              AVG_RISK[a + 1] - t * (AVG_RISK[a + 1] - AVG_RISK[a]), None]
fig.add_trace(go.Scatter(x=seg_x, y=seg_y, mode="lines", xaxis="x7", yaxis="y8", showlegend=False,
                         line=dict(color="#333333", width=2.6)))
fig.add_trace(go.Scatter(x=positions, y=AVG_RISK, mode="markers", xaxis="x7", yaxis="y8", showlegend=False,
                         marker=dict(symbol="square", size=18, color="#333333", line=dict(width=0))))

tick_font = dict(family=SERIF, size=37, color="black")
layout["xaxis7"] = dict(domain=[fx(PLOT_L), fx(PLOT_R)], range=X_RANGE, anchor="y7", tickmode="array",
                        tickvals=positions, ticktext=CATEGORIES, ticks="inside", ticklen=12, tickwidth=2.6,
                        tickcolor="black", showline=True, linecolor="black", linewidth=3, showgrid=False,
                        zeroline=False, tickfont=dict(family=SERIF, size=37, color="black"),
                        ticklabelstandoff=-5, automargin=False)
layout["yaxis7"] = dict(domain=[fy(PLOT_B), fy(PLOT_T)], range=[0, 270000], anchor="x7", tickmode="array",
                        tickvals=[0, 90000, 180000, 270000], ticktext=["0", "90000", "180000", "270000"],
                        ticks="inside", ticklen=12, tickwidth=2.6, tickcolor="black", showline=True,
                        linecolor="black", linewidth=3, showgrid=False, zeroline=False, tickfont=tick_font,
                        ticklabelstandoff=6, automargin=False,
                        minor=dict(dtick=45000, tick0=0, ticks="inside", ticklen=6, tickwidth=2.6,
                                   tickcolor="black", showgrid=False))
layout["yaxis8"] = dict(domain=[fy(PLOT_B), fy(PLOT_T)], range=Y2_RANGE, anchor="x7", overlaying="y7",
                        side="right", tick0=0.028, dtick=0.001, tickformat=".3f", ticks="inside", ticklen=12,
                        tickwidth=2.6, tickcolor="black", showline=True, linecolor="black", linewidth=3,
                        showgrid=False, zeroline=False, tickfont=tick_font, ticklabelstandoff=7,
                        automargin=False,
                        minor=dict(dtick=0.0005, tick0=0.028, ticks="inside", ticklen=6, tickwidth=2.6,
                                   tickcolor="black", showgrid=False))

annotations = []


def add_text(text, px, py, size, xanchor="left", angle=0, family=SERIF, bold=False):
    annotations.append(dict(text=f"<b>{text}</b>" if bold else text, x=fx(px), y=fy(py), xref="paper",
                            yref="paper", xanchor=xanchor, yanchor="middle", showarrow=False, textangle=angle,
                            font=dict(family=family, size=size, color="black")))


for panel, (lx, ly) in zip(PANELS, LABEL_POS):
    add_text(panel[0], lx, ly, 41)
add_text("A", 9, 25, 46, bold=True)
add_text("B", 11, 870, 46, bold=True)
add_text("Risk level area / km<sup>2</sup>", 33, 1131, 42, xanchor="center", angle=-90)
add_text("Average value of risk", 1346, 1129, 42.5, xanchor="center", angle=-90)
add_text("0", 1535, 758, 40, xanchor="center")
add_text("200", 1658, 758, 40, xanchor="center")
add_text("km", 1673, 800, 40)
add_text("N", 1703, 14, 26, xanchor="center", family="Liberation Sans")

shapes = []
LEGEND_Y = [912, 1030, 1148, 1266, 1384]
for name, color, ly in zip(RISK_NAMES, RISK_COLORS, LEGEND_Y):
    shapes.append(dict(type="rect", xref="paper", yref="paper", x0=fx(1405), x1=fx(1478), y0=fy(ly - 21),
                       y1=fy(ly + 21), fillcolor=color, line=dict(width=0.5, color="#D8D8D8")))
    add_text(name, 1504, ly, 41)


def path(points):
    return "M " + " L ".join(f"{fx(a):.5f} {fy(b):.5f}" for a, b in points)


# scale bar
shapes.append(dict(type="path", xref="paper", yref="paper",
                   path=path([(1534, 788), (1534, 810), (1659, 810), (1659, 788)]),
                   line=dict(color="black", width=3.6)))
# north arrow
shapes.append(dict(type="path", xref="paper", yref="paper",
                   path=path([(1703, 29), (1722, 92), (1703, 67)]) + " Z",
                   fillcolor="white", line=dict(color="black", width=1.6)))
shapes.append(dict(type="path", xref="paper", yref="paper",
                   path=path([(1703, 29), (1684, 92), (1703, 67)]) + " Z",
                   fillcolor="black", line=dict(color="black", width=1)))

fig.update_layout(width=W, height=H, margin=dict(l=0, r=0, t=0, b=0), paper_bgcolor="white",
                  plot_bgcolor="rgba(0,0,0,0)", barmode="stack", showlegend=False, bargap=0.3,
                  annotations=annotations, shapes=shapes, **layout)

fig.write_html("out.html", config={"displayModeBar": False},
               post_script="document.body.style.margin='0';")
